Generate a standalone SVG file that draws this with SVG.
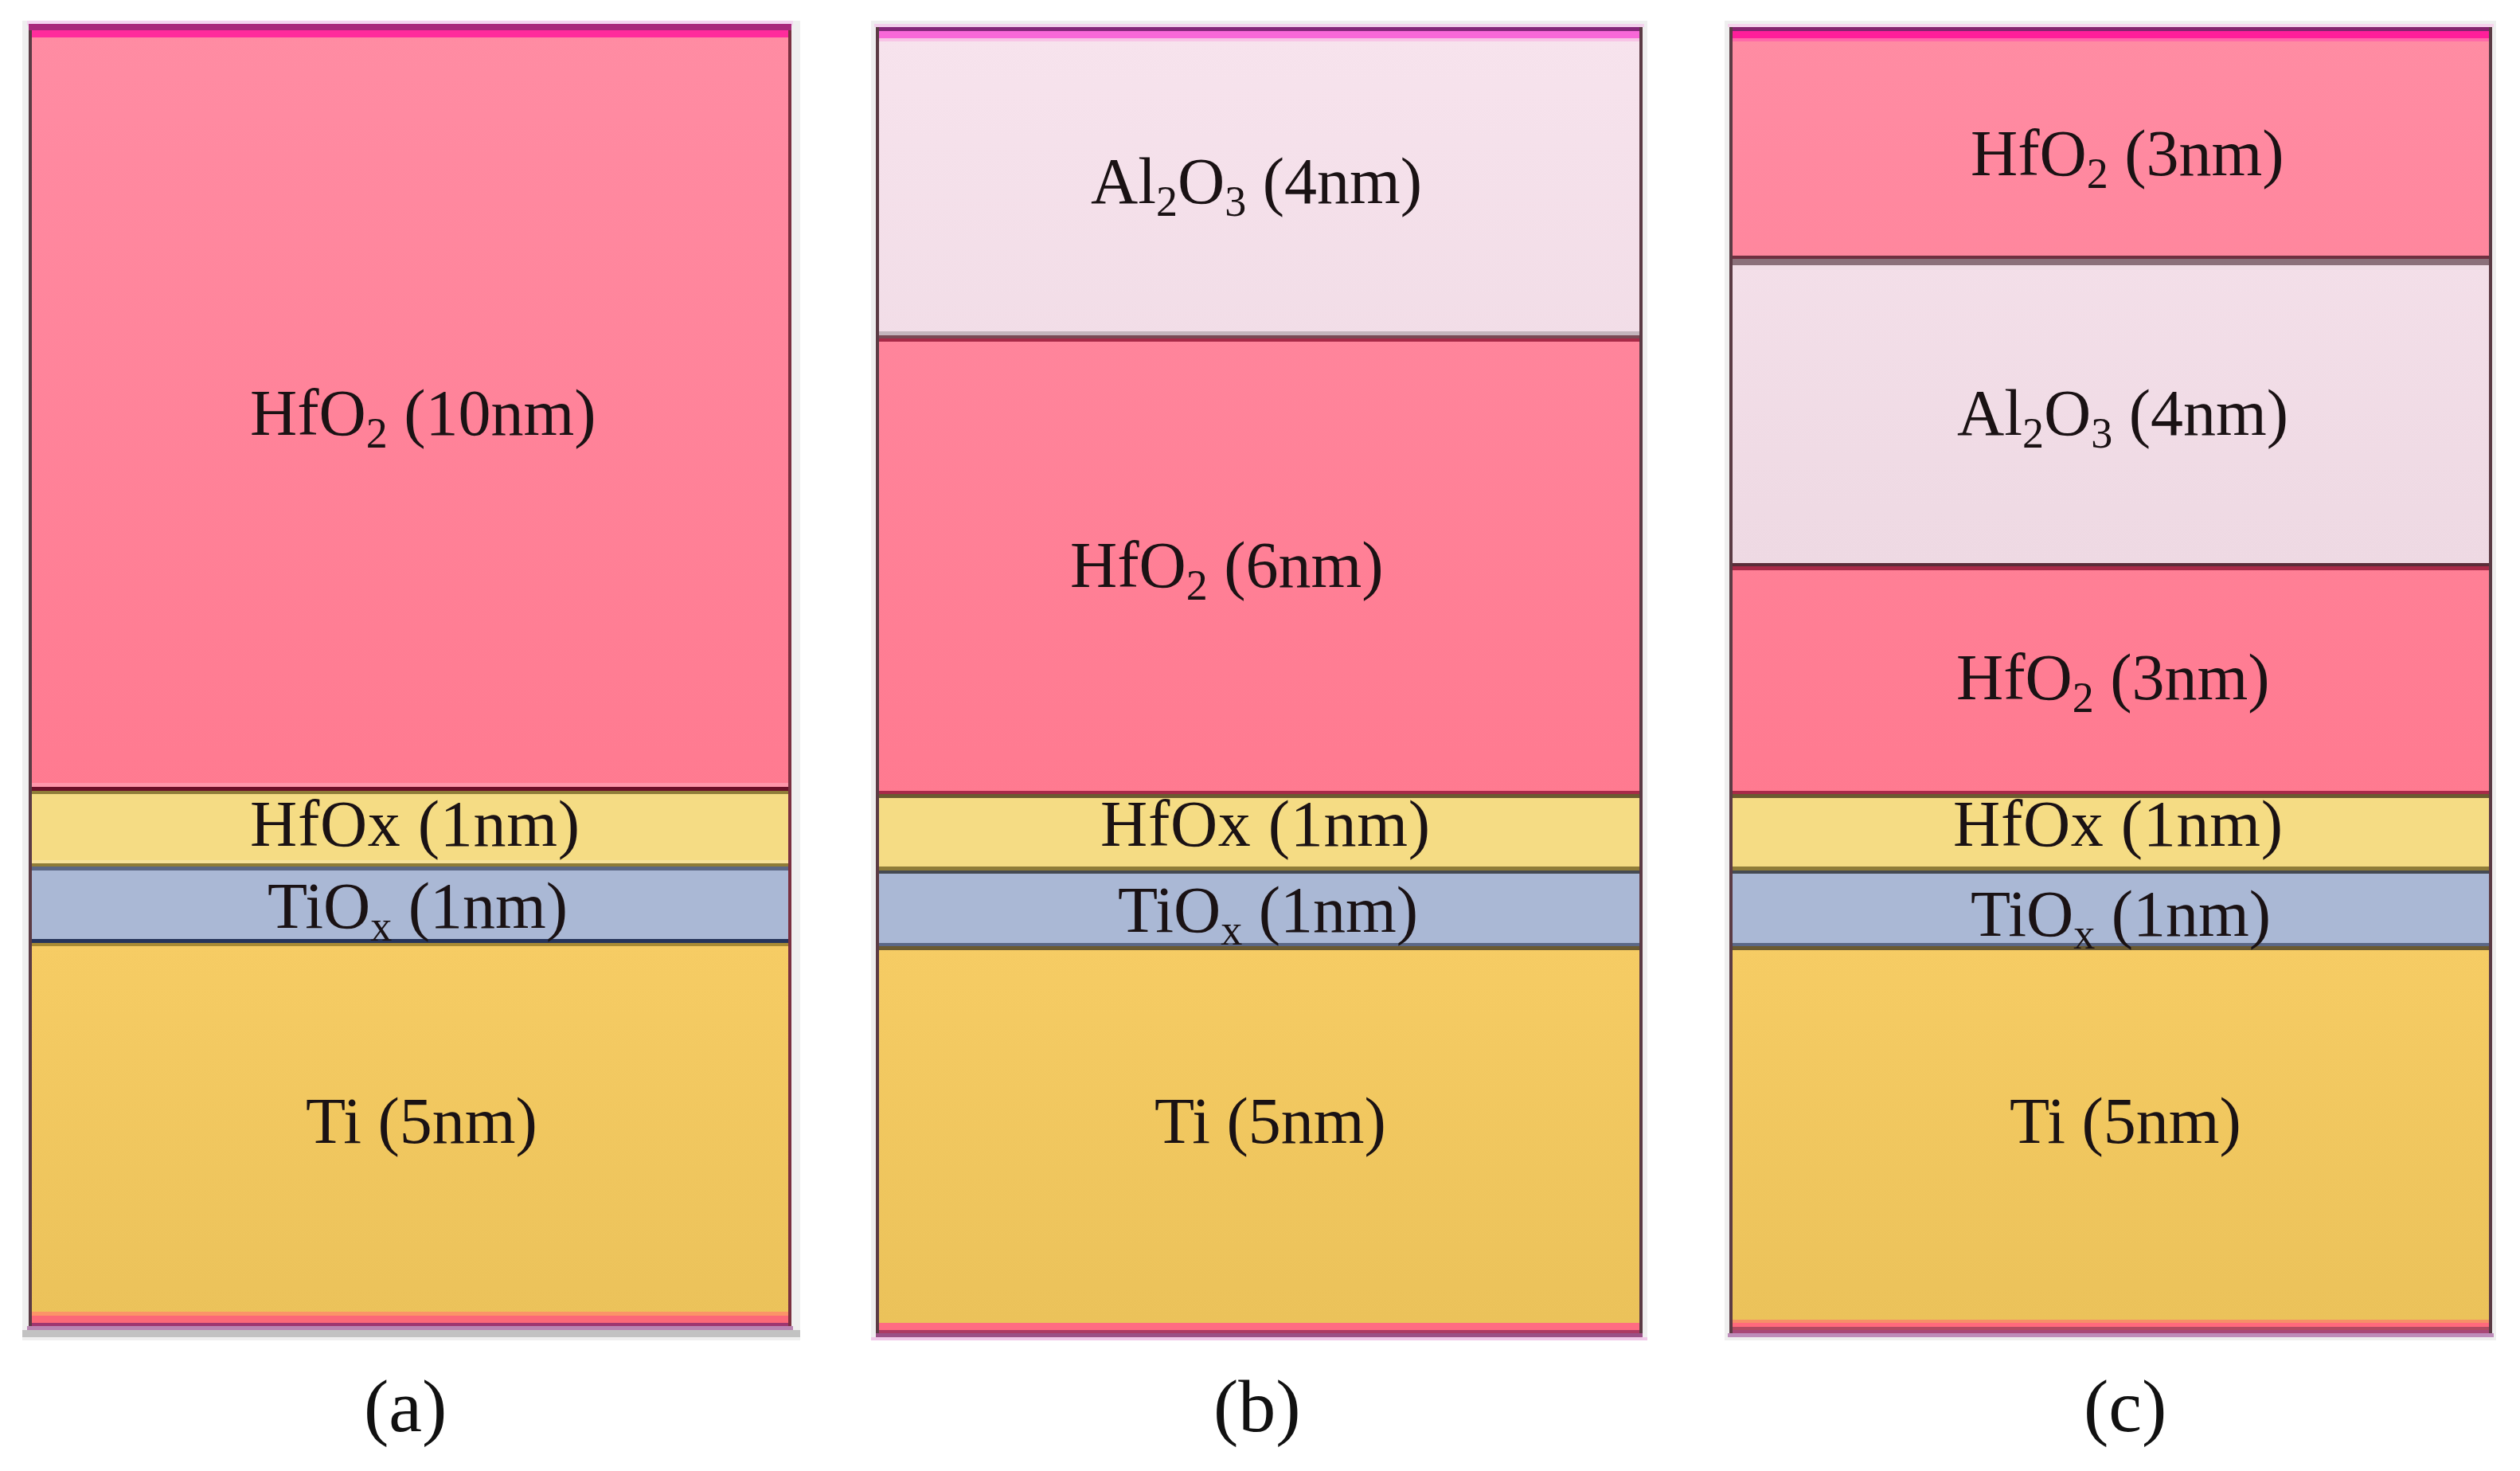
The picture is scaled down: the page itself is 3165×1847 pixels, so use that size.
<svg xmlns="http://www.w3.org/2000/svg" width="3165" height="1847" viewBox="0 0 3165 1847">
<defs>
<linearGradient id="gp" gradientUnits="userSpaceOnUse" x1="0" y1="40" x2="0" y2="1000"><stop offset="0" stop-color="#ff8ca3"/><stop offset="1" stop-color="#ff7a90"/></linearGradient>
<linearGradient id="ga" gradientUnits="userSpaceOnUse" x1="0" y1="40" x2="0" y2="710"><stop offset="0" stop-color="#f7e3ed"/><stop offset="1" stop-color="#eed9e3"/></linearGradient>
<linearGradient id="gt" gradientUnits="userSpaceOnUse" x1="0" y1="1185" x2="0" y2="1660"><stop offset="0" stop-color="#f6cc64"/><stop offset="1" stop-color="#ebc25a"/></linearGradient>
</defs>
<style>
text{font-family:"Liberation Serif","Times New Roman",serif;font-size:82px;fill:#1a1214}
.cap{font-size:94px;fill:#111}
.hx{letter-spacing:.7px}
.sub{font-size:54px}
.p{fill:url(#gp)}
.a{fill:url(#ga)}
.t{fill:url(#gt)}
.y{fill:#f5dc84}
.yl{fill:#f8e29a}
.b{fill:#aab8d5}
.ol{fill:#8f7c38}
.sl{fill:#5b6785}
.nv{fill:#26345a}
.oc{fill:#a88a34}
.dk{fill:#6b1028}
.cr{fill:#a82a48}
.lp{fill:#ff96aa}
.br{fill:#6b5a30}
.gr{fill:#8a7079}
.pl{fill:#f0dde6}
.dg{fill:#5b3b44}
.sh{fill:#efefef}
</style>
<rect width="3165" height="1847" fill="#fff"/>
<g id="panel-a">
<rect class="sh" x="28" y="26" width="977" height="1657"/>
<rect x="34" y="26" width="962" height="6" fill="#f3d6f0"/>
<rect x="28" y="1670" width="977" height="9" fill="#c2c2c2"/>
<rect x="34" y="1665" width="962" height="5" fill="#b985b2"/>
<rect x="36" y="30" width="958" height="8" fill="#a82a7c"/>
<rect x="36" y="38" width="958" height="9" fill="#ff2c9c"/>
<rect class="p" x="36" y="47" width="958" height="941"/>
<rect class="lp" x="36" y="983" width="958" height="5"/>
<rect class="dk" x="36" y="988" width="958" height="5"/>
<rect class="ol" x="36" y="993" width="958" height="4"/>
<rect class="y" x="36" y="997" width="958" height="87"/>
<rect class="yl" x="36" y="1080" width="958" height="4"/>
<rect class="ol" x="36" y="1084" width="958" height="4"/>
<rect class="sl" x="36" y="1088" width="958" height="5"/>
<rect class="b" x="36" y="1093" width="958" height="86"/>
<rect class="nv" x="36" y="1179" width="958" height="5"/>
<rect class="oc" x="36" y="1184" width="958" height="4"/>
<rect class="t" x="36" y="1188" width="958" height="459"/>
<rect x="36" y="1647" width="958" height="5" fill="#fb9468"/>
<rect x="36" y="1652" width="958" height="9" fill="#fb6878"/>
<rect x="36" y="1661" width="958" height="4" fill="#9e3670"/>
<rect class="dg" x="36" y="38" width="4" height="1627"/>
<rect x="990" y="38" width="4" height="1627" fill="#7a3040"/>
<text x="314" y="546">HfO<tspan class="sub" dy="16">2</tspan><tspan dy="-16"> (10nm)</tspan></text>
<text class="hx" x="314" y="1062">HfOx (1nm)</text>
<text x="336" y="1165">TiO<tspan class="sub" dy="16">x</tspan><tspan dy="-16"> (1nm)</tspan></text>
<text x="384" y="1435">Ti (5nm)</text>
<text class="cap" x="457" y="1797">(a)</text>
</g>
<g id="panel-b">
<rect class="sh" x="1094" y="26" width="975" height="1657"/>
<rect x="1098" y="30" width="967" height="4" fill="#f3d0ec"/>
<rect x="1094" y="1679" width="975" height="4" fill="#f0c8e8"/>
<rect x="1100" y="34" width="963" height="5" fill="#84287a"/>
<rect x="1100" y="39" width="963" height="9" fill="#f868d8"/>
<rect x="1100" y="48" width="963" height="4" fill="#f8c4e6"/>
<rect class="a" x="1100" y="52" width="963" height="364"/>
<rect x="1100" y="416" width="963" height="5" fill="#c4b4bc"/>
<rect x="1100" y="421" width="963" height="4" fill="#7a4a55"/>
<rect class="cr" x="1100" y="425" width="963" height="4"/>
<rect class="p" x="1100" y="429" width="963" height="564"/>
<rect class="cr" x="1100" y="993" width="963" height="4"/>
<rect class="br" x="1100" y="997" width="963" height="5"/>
<rect class="y" x="1100" y="1002" width="963" height="86"/>
<rect class="ol" x="1100" y="1088" width="963" height="5"/>
<rect x="1100" y="1093" width="963" height="4" fill="#454a52"/>
<rect class="b" x="1100" y="1097" width="963" height="87"/>
<rect class="sl" x="1100" y="1184" width="963" height="4"/>
<rect class="br" x="1100" y="1188" width="963" height="5"/>
<rect class="t" x="1100" y="1193" width="963" height="468"/>
<rect x="1100" y="1661" width="963" height="9" fill="#ff6c82"/>
<rect x="1100" y="1670" width="963" height="4" fill="#ac3a64"/>
<rect x="1100" y="1674" width="963" height="5" fill="#9a5086"/>
<rect class="dg" x="1100" y="34" width="4" height="1640"/>
<rect class="dg" x="2059" y="34" width="4" height="1640"/>
<text x="1370" y="255">Al<tspan class="sub" dy="16">2</tspan><tspan dy="-16">O</tspan><tspan class="sub" dy="16">3</tspan><tspan dy="-16"> (4nm)</tspan></text>
<text x="1344" y="737">HfO<tspan class="sub" dy="16">2</tspan><tspan dy="-16"> (6nm)</tspan></text>
<text class="hx" x="1382" y="1062">HfOx (1nm)</text>
<text x="1404" y="1170">TiO<tspan class="sub" dy="16">x</tspan><tspan dy="-16"> (1nm)</tspan></text>
<text x="1450" y="1435">Ti (5nm)</text>
<text class="cap" x="1524" y="1797">(b)</text>
</g>
<g id="panel-c">
<rect class="sh" x="2166" y="26" width="969" height="1657"/>
<rect x="2170" y="30" width="962" height="4" fill="#f6d2ec"/>
<rect x="2170" y="1674" width="962" height="5" fill="#be8cba"/>
<rect x="2172" y="34" width="958" height="5" fill="#84246f"/>
<rect x="2172" y="39" width="958" height="9" fill="#ff1f9a"/>
<rect x="2172" y="48" width="958" height="4" fill="#ff6aa8"/>
<rect class="p" x="2172" y="52" width="958" height="269"/>
<rect x="2172" y="321" width="958" height="4" fill="#6e3040"/>
<rect class="gr" x="2172" y="325" width="958" height="8"/>
<rect class="pl" x="2172" y="333" width="958" height="6"/>
<rect class="a" x="2172" y="339" width="958" height="368"/>
<rect x="2172" y="707" width="958" height="4" fill="#5a2c38"/>
<rect class="cr" x="2172" y="711" width="958" height="5"/>
<rect class="p" x="2172" y="716" width="958" height="277"/>
<rect class="cr" x="2172" y="993" width="958" height="4"/>
<rect class="br" x="2172" y="997" width="958" height="5"/>
<rect class="y" x="2172" y="1002" width="958" height="86"/>
<rect class="ol" x="2172" y="1088" width="958" height="5"/>
<rect x="2172" y="1093" width="958" height="4" fill="#454a52"/>
<rect class="b" x="2172" y="1097" width="958" height="87"/>
<rect class="sl" x="2172" y="1184" width="958" height="4"/>
<rect class="br" x="2172" y="1188" width="958" height="5"/>
<rect class="t" x="2172" y="1193" width="958" height="464"/>
<rect x="2172" y="1657" width="958" height="4" fill="#f59068"/>
<rect x="2172" y="1661" width="958" height="5" fill="#ff6a7c"/>
<rect x="2172" y="1666" width="958" height="4" fill="#b24a62"/>
<rect x="2172" y="1670" width="958" height="4" fill="#a84878"/>
<rect class="dg" x="2172" y="34" width="4" height="1640"/>
<rect class="dg" x="3126" y="34" width="4" height="1640"/>
<text x="2475" y="220">HfO<tspan class="sub" dy="16">2</tspan><tspan dy="-16"> (3nm)</tspan></text>
<text x="2458" y="546">Al<tspan class="sub" dy="16">2</tspan><tspan dy="-16">O</tspan><tspan class="sub" dy="16">3</tspan><tspan dy="-16"> (4nm)</tspan></text>
<text x="2457" y="878">HfO<tspan class="sub" dy="16">2</tspan><tspan dy="-16"> (3nm)</tspan></text>
<text class="hx" x="2453" y="1062">HfOx (1nm)</text>
<text x="2475" y="1175">TiO<tspan class="sub" dy="16">x</tspan><tspan dy="-16"> (1nm)</tspan></text>
<text x="2524" y="1435">Ti (5nm)</text>
<text class="cap" x="2617" y="1797">(c)</text>
</g>
</svg>
